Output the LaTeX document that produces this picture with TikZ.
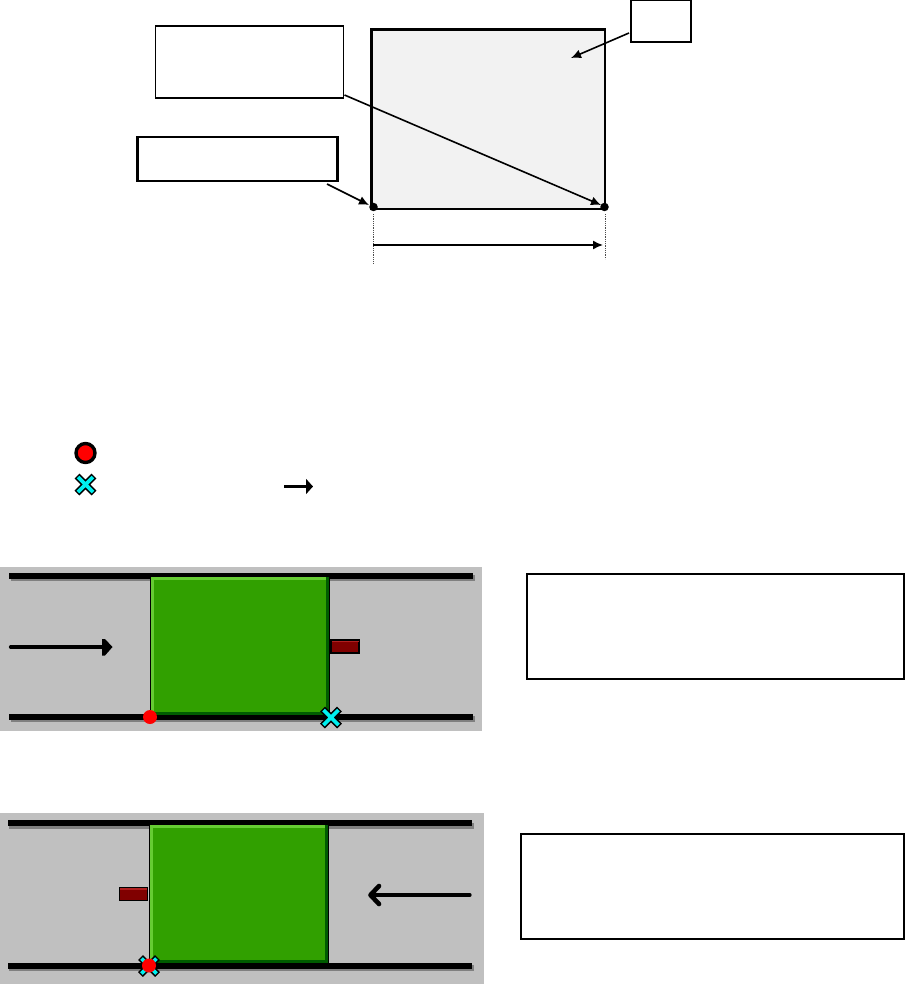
\documentclass[tikz,border=0pt]{standalone}
\usetikzlibrary{arrows.meta}
\definecolor{panelgray}{HTML}{C0C0C0}
\definecolor{shadowgray}{HTML}{808080}
\definecolor{doorgreen}{HTML}{31A000}
\definecolor{greenlight}{HTML}{66CC33}
\definecolor{greendark}{HTML}{005C00}
\definecolor{handle}{HTML}{800000}
\definecolor{handlelight}{HTML}{B02020}
\definecolor{squarefill}{HTML}{F2F2F2}
\definecolor{xcyan}{HTML}{00F0F0}
\tikzset{
  callout/.style={draw=black,line width=1.5pt,fill=white,inner sep=0pt,outer sep=0pt},
  calloutthick/.style={callout,line width=2.4pt},
  leader/.style={line width=1.6pt,-{Latex[length=10pt,width=9pt]}},
  dimguide/.style={line width=.8pt,densely dotted,black!70},
  pindot/.style={circle,fill=black,inner sep=0pt,minimum size=8.5pt,outer sep=0pt},
  panel/.style={fill=panelgray,draw=none},
  railshadow/.style={line width=6pt,shadowgray},
  rail/.style={line width=6pt,black},
  handlebox/.style={draw=black,line width=1.4pt,fill=handle,inner sep=0pt,outer sep=0pt,minimum width=28pt,minimum height=13pt},
  reddot/.style={circle,fill=red,draw=none,inner sep=0pt,minimum size=14pt}
}
\newcommand{\crossmark}[2]{%
  \draw[black,line width=7pt] (#1-8.5,#2-8.5) -- (#1+8.5,#2+8.5) (#1-8.5,#2+8.5) -- (#1+8.5,#2-8.5);
  \draw[xcyan,line width=3.8pt] (#1-7.5,#2-7.5) -- (#1+7.5,#2+7.5) (#1-7.5,#2+7.5) -- (#1+7.5,#2-7.5);}
\newcommand{\doorshape}[4]{% x0 y0 x1 y1
  \fill[doorgreen] (#1,#2) rectangle (#3,#4);
  \fill[greenlight] (#1,#2) rectangle (#3,#2+3);
  \fill[greenlight] (#1,#2) rectangle (#1+3,#4);
  \fill[greendark] (#3-3,#2) rectangle (#3,#4);
  \fill[greendark] (#1,#4-3) rectangle (#3,#4);
  \draw[black,line width=1.4pt] (#1-.5,#2) -- (#1-.5,#4) (#3+.7,#2) -- (#3+.7,#4);}
\begin{document}
\begin{tikzpicture}[x=1pt,y=-1pt]
\useasboundingbox (0,0) rectangle (905,984);
% top figure
\fill[squarefill] (371.5,29.5) rectangle (605,209);
\draw[line width=2.8pt,black] (371.5,29.5) rectangle (605,209);
\node[callout,minimum width=188pt,minimum height=72pt] (boxa) at (249.5,62) {};
\node[calloutthick,minimum width=200pt,minimum height=44pt] (boxb) at (237.5,159) {};
\node[callout,line width=1.9pt,minimum width=60pt,minimum height=42pt] (boxc) at (661,21) {};
\node[pindot] (pinl) at (373.5,207) {};
\node[pindot] (pinr) at (604.5,207) {};
\coordinate (ctarget) at (571,58);
\coordinate (astart) at (344.5,95);
\coordinate (bstart) at (327,184);
\coordinate (cstart) at (629,33);
\draw[leader] (cstart) -- (ctarget);
\draw[leader] (astart) -- (601,205);
\draw[leader] (bstart) -- (369,205);
\coordinate (gl0) at (373,214); \coordinate (gl1) at (373,264);
\coordinate (gr0) at (605.5,214); \coordinate (gr1) at (605.5,259);
\draw[dimguide] (gl0) -- (gl1);
\draw[dimguide] (gr0) -- (gr1);
\coordinate (dl) at (373,245); \coordinate (dr) at (603,245);
\draw[line width=1.5pt,-{Latex[length=10pt,width=9pt]}] (dl) -- (dr);
% legend
\node[circle,draw=black,line width=3.4pt,fill=red,inner sep=0pt,minimum size=19pt] (legdot) at (85.5,453) {};
\crossmark{85.5}{484.5}
\coordinate (la) at (284,486.5); \coordinate (lb) at (313,486.5);
\draw[line width=2.8pt,-{Triangle[length=7pt,width=15pt]}] (la) -- (lb);
% panel 1
\fill[panel] (0,567) rectangle (482,731);
\draw[railshadow] (11,578) -- (475,578);
\draw[railshadow] (11,719) -- (475,719);
\draw[rail] (9,575.5) -- (473,575.5);
\draw[rail] (9,717) -- (473,717);
\doorshape{151}{577}{329}{715}
\node[handlebox] (h1) at (345,646.5) {};
\fill[handlelight] (332,640.5) rectangle (359,642);
\node[reddot] (d1) at (150,717) {};
\crossmark{331}{717.5}
\draw[black,line width=3.2pt,line cap=round] (10.5,647) -- (104,647);
\fill[black] (102,639) -- (105,639) -- (112.5,647) -- (105,655.5) -- (102,655.5) -- cycle;
% panel 2
\fill[panel] (0,813) rectangle (484,984);
\draw[railshadow] (9,825.5) -- (474,825.5);
\draw[railshadow] (9,968) -- (474,968);
\draw[rail] (8,823) -- (472,823);
\draw[rail] (8,965.5) -- (472,965.5);
\doorshape{150}{825}{328}{963}
\node[handlebox] (h2) at (133.5,894) {};
\fill[handlelight] (120,888) rectangle (147,889.5);
\crossmark{149}{966}
\node[reddot] (d2) at (149,965.5) {};
\draw[black,line width=3.2pt,line cap=round] (470,895) -- (375,895);
\draw[black,line width=4.6pt,line cap=round,line join=round] (379,886) -- (370.5,895) -- (379,904);
% right boxes
\node[callout,minimum width=377pt,minimum height=105pt] (note1) at (715.5,626.5) {};
\node[callout,line width=2.1pt,minimum width=383pt,minimum height=105pt] (note2) at (712.5,886.5) {};
\end{tikzpicture}
\end{document}
